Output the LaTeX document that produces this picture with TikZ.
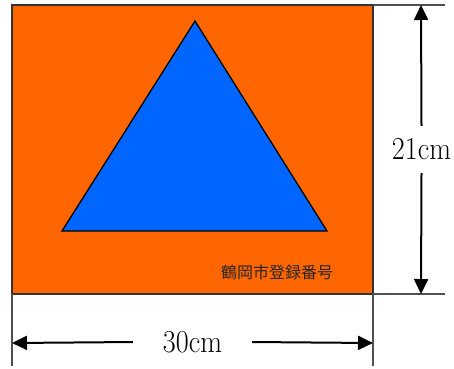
\documentclass[tikz,border=0pt]{standalone}
\usepackage{fontspec}
\newfontfamily\jpfont{Noto Sans CJK JP}
\usetikzlibrary{arrows.meta}
\definecolor{plate}{HTML}{FF6600}
\definecolor{mark}{HTML}{0066FF}
\definecolor{extgray}{HTML}{505050}
\tikzset{
  extline/.style={draw=extgray, line width=1.5pt},
  dimarrow/.style={draw=black, line width=2pt, -{Triangle[length=15pt,width=14pt]}},
  dimlabel/.style={inner sep=0pt, font=\fontsize{32}{32}\selectfont, xscale=0.88},
}
\begin{document}
\begin{tikzpicture}[x=1pt,y=-1pt]
\useasboundingbox (0,0) rectangle (454,368);
% plate
\coordinate (tl) at (12,5);
\coordinate (br) at (373,294);
\coordinate (tr) at (373,5);
\coordinate (bl) at (12,294);
\filldraw[fill=plate, draw=black!80, line width=1.8pt] (tl) rectangle (br);
% triangle
\coordinate (apex) at (195,21);
\coordinate (bleft) at (62,231);
\coordinate (bright) at (327,231);
\filldraw[fill=mark, draw=black, line width=1.3pt, line join=miter] (apex) -- (bright) -- (bleft) -- cycle;
% registration text
\node[inner sep=0pt, text=black!85, font=\jpfont\fontsize{16}{16}\selectfont] (reg) at (277,272) {鶴岡市登録番号};
% extension lines
\coordinate (trx) at (445,5);
\coordinate (brx) at (445,294);
\coordinate (bly) at (12,366);
\coordinate (bry) at (373,366);
\draw[extline] (tr) -- (trx);
\draw[extline] (br) -- (brx);
\draw[extline] (bl) -- (bly);
\draw[extline] (br) -- (bry);
% dimension arrows
\coordinate (vtop) at (421,5);
\coordinate (vbot) at (421,294);
\coordinate (hleft) at (12,343);
\coordinate (hright) at (373,343);
\node[dimlabel, minimum height=47pt] (h21) at (421.5,149.5) {21cm};
\node[dimlabel, minimum width=135pt] (w30) at (192.5,342) {30cm};
\draw[dimarrow] (h21.north) -- (vtop);
\draw[dimarrow] (h21.south) -- (vbot);
\draw[dimarrow] (w30.west) -- (hleft);
\draw[dimarrow] (w30.east) -- (hright);
\end{tikzpicture}
\end{document}
